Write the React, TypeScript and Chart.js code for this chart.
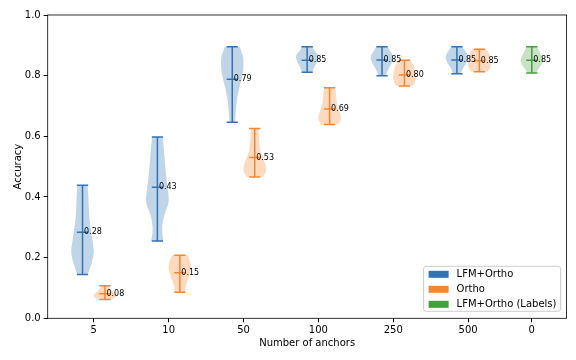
import React, { useEffect, useRef } from "react";
import { Chart, registerables } from "chart.js";

Chart.register(...registerables);

// ---- data ----
const categories = ["5", "10", "50", "100", "250", "500", "0"];
const tickPositions = [1, 2, 3, 4, 5, 6, 6.85];
const seriesNames = ["LFM+Ortho", "Ortho", "LFM+Ortho (Labels)"];
const seriesColors = ["#3274b3", "#f38630", "#44a03c"];

const bluePositions = [0.85, 1.85, 2.85, 3.85, 4.85, 5.85];
const blueMins = [0.144, 0.255, 0.646, 0.811, 0.8, 0.806];
const blueMaxs = [0.439, 0.598, 0.895, 0.895, 0.895, 0.895];
const blueMeans = [0.284, 0.432, 0.788, 0.851, 0.852, 0.852];
const blueShapes = [
  [0.45, 0.8, 1.0, 0.9, 0.75, 0.62, 0.56, 0.52, 0.45],
  [0.55, 0.42, 0.62, 1.0, 0.92, 0.78, 0.68, 0.58, 0.48],
  [0.25, 0.3, 0.38, 0.5, 0.7, 0.9, 1.0, 0.95, 0.65],
  [0.45, 0.55, 0.7, 0.85, 0.95, 1.0, 0.85, 0.6, 0.5],
  [0.35, 0.45, 0.6, 0.78, 0.92, 1.0, 0.9, 0.7, 0.5],
  [0.35, 0.45, 0.6, 0.8, 0.95, 1.0, 0.9, 0.7, 0.5],
];

const orangePositions = [1.15, 2.15, 3.15, 4.15, 5.15, 6.15];
const orangeMins = [0.062, 0.086, 0.466, 0.639, 0.766, 0.813];
const orangeMaxs = [0.107, 0.208, 0.626, 0.76, 0.851, 0.887];
const orangeMeans = [0.081, 0.15, 0.53, 0.69, 0.802, 0.849];
const orangeShapes = [
  [0.55, 0.85, 1.0, 0.95, 0.8, 0.65, 0.5, 0.4, 0.35],
  [0.45, 0.5, 0.6, 0.75, 0.9, 1.0, 0.98, 0.85, 0.7],
  [0.7, 1.0, 0.95, 0.75, 0.55, 0.45, 0.4, 0.38, 0.35],
  [0.75, 1.0, 0.97, 0.85, 0.72, 0.62, 0.58, 0.55, 0.5],
  [0.7, 0.9, 1.0, 1.0, 0.95, 0.9, 0.85, 0.7, 0.5],
  [0.7, 0.9, 1.0, 1.0, 0.98, 0.95, 0.9, 0.8, 0.6],
];

const greenPositions = [6.85];
const greenMins = [0.809];
const greenMaxs = [0.895];
const greenMeans = [0.851];
const greenShapes = [[0.4, 0.55, 0.75, 0.95, 1.0, 0.9, 0.75, 0.6, 0.5]];

const yTicks = [0, 0.2, 0.4, 0.6, 0.8, 1.0];

// ---- styling constants ----
const HALF_WIDTH = 0.15;
const CAP_HALF = 0.075;
const FONT = '"DejaVu Sans", sans-serif';

type Series = {
  positions: number[];
  mins: number[];
  maxs: number[];
  means: number[];
  shapes: number[][];
};

const allSeries: Series[] = [
  { positions: bluePositions, mins: blueMins, maxs: blueMaxs, means: blueMeans, shapes: blueShapes },
  { positions: orangePositions, mins: orangeMins, maxs: orangeMaxs, means: orangeMeans, shapes: orangeShapes },
  { positions: greenPositions, mins: greenMins, maxs: greenMaxs, means: greenMeans, shapes: greenShapes },
];

function hexToRgba(hex: string, a: number) {
  const r = parseInt(hex.slice(1, 3), 16);
  const g = parseInt(hex.slice(3, 5), 16);
  const b = parseInt(hex.slice(5, 7), 16);
  return `rgba(${r},${g},${b},${a})`;
}

function smoothThrough(ctx: CanvasRenderingContext2D, pts: { x: number; y: number }[], moveFirst: boolean) {
  if (moveFirst) ctx.moveTo(pts[0].x, pts[0].y);
  else ctx.lineTo(pts[0].x, pts[0].y);
  for (let i = 0; i < pts.length - 1; i++) {
    const p0 = pts[Math.max(0, i - 1)];
    const p1 = pts[i];
    const p2 = pts[i + 1];
    const p3 = pts[Math.min(pts.length - 1, i + 2)];
    const c1x = p1.x + (p2.x - p0.x) / 6;
    const c1y = p1.y + (p2.y - p0.y) / 6;
    const c2x = p2.x - (p3.x - p1.x) / 6;
    const c2y = p2.y - (p3.y - p1.y) / 6;
    ctx.bezierCurveTo(c1x, c1y, c2x, c2y, p2.x, p2.y);
  }
}

const violinPlugin = {
  id: "violins",
  afterDatasetsDraw(chart: any) {
    const ctx: CanvasRenderingContext2D = chart.ctx;
    const xs = chart.scales.x;
    const ys = chart.scales.y;
    const area = chart.chartArea;
    ctx.save();
    allSeries.forEach((s, si) => {
      const color = seriesColors[si];
      s.positions.forEach((pos, i) => {
        const mn = s.mins[i];
        const mx = s.maxs[i];
        const shape = s.shapes[i];
        const n = shape.length;
        const right: { x: number; y: number }[] = [];
        const left: { x: number; y: number }[] = [];
        for (let k = 0; k < n; k++) {
          const v = mn + ((mx - mn) * k) / (n - 1);
          const w = shape[k] * HALF_WIDTH;
          right.push({ x: xs.getPixelForValue(pos + w), y: ys.getPixelForValue(v) });
          left.push({ x: xs.getPixelForValue(pos - w), y: ys.getPixelForValue(v) });
        }
        ctx.beginPath();
        smoothThrough(ctx, right, true);
        smoothThrough(ctx, left.slice().reverse(), false);
        ctx.closePath();
        ctx.fillStyle = hexToRgba(color, 0.3);
        ctx.fill();

        // lines
        ctx.strokeStyle = color;
        ctx.lineWidth = 1.5;
        const cx = xs.getPixelForValue(pos);
        const cl = xs.getPixelForValue(pos - CAP_HALF);
        const cr = xs.getPixelForValue(pos + CAP_HALF);
        const yMin = ys.getPixelForValue(mn);
        const yMax = ys.getPixelForValue(mx);
        const yMean = ys.getPixelForValue(s.means[i]);
        ctx.beginPath();
        ctx.moveTo(cx, yMin);
        ctx.lineTo(cx, yMax);
        ctx.moveTo(cl, yMin);
        ctx.lineTo(cr, yMin);
        ctx.moveTo(cl, yMax);
        ctx.lineTo(cr, yMax);
        ctx.moveTo(cl, yMean);
        ctx.lineTo(cr, yMean);
        ctx.stroke();
      });
    });
    // annotations
    ctx.font = `8px ${FONT}`;
    ctx.fillStyle = "#000";
    ctx.textAlign = "left";
    ctx.textBaseline = "middle";
    allSeries.forEach((s) => {
      s.positions.forEach((pos, i) => {
        ctx.fillText(s.means[i].toFixed(2), xs.getPixelForValue(pos + 0.02), ys.getPixelForValue(s.means[i]));
      });
    });

    // frame (spines)
    ctx.strokeStyle = "#000";
    ctx.lineWidth = 0.8;
    ctx.strokeRect(area.left, area.top, area.right - area.left, area.bottom - area.top);

    // legend
    const bw = 137;
    const bh = 45;
    const bx = area.right - 6 - bw;
    const by = area.bottom - 7 - bh;
    ctx.beginPath();
    const r = 2.5;
    ctx.moveTo(bx + r, by);
    ctx.lineTo(bx + bw - r, by);
    ctx.arcTo(bx + bw, by, bx + bw, by + r, r);
    ctx.lineTo(bx + bw, by + bh - r);
    ctx.arcTo(bx + bw, by + bh, bx + bw - r, by + bh, r);
    ctx.lineTo(bx + r, by + bh);
    ctx.arcTo(bx, by + bh, bx, by + bh - r, r);
    ctx.lineTo(bx, by + r);
    ctx.arcTo(bx, by, bx + r, by, r);
    ctx.closePath();
    ctx.fillStyle = "rgba(255,255,255,0.8)";
    ctx.fill();
    ctx.strokeStyle = "#cccccc";
    ctx.lineWidth = 1;
    ctx.stroke();
    ctx.font = `10px ${FONT}`;
    ctx.textBaseline = "middle";
    seriesNames.forEach((name, i) => {
      const ry = by + 8 + i * 15;
      ctx.fillStyle = seriesColors[i];
      ctx.fillRect(bx + 5, ry - 3.5, 20, 7);
      ctx.fillStyle = "#000";
      ctx.fillText(name, bx + 33, ry + 0.5);
    });
    ctx.restore();
  },
};

export default function App() {
  const ref = useRef<HTMLCanvasElement | null>(null);
  useEffect(() => {
    if (!ref.current) return;
    const chart = new Chart(ref.current, {
      type: "scatter",
      data: {
        datasets: allSeries.map((s, si) => ({
          label: seriesNames[si],
          data: s.positions.map((p, i) => ({ x: p, y: s.means[i] })),
          pointRadius: 0,
          backgroundColor: seriesColors[si],
          borderColor: seriesColors[si],
        })),
      },
      options: {
        animation: false,
        responsive: true,
        maintainAspectRatio: false,
        layout: { padding: { top: 15, right: 9.4, left: 0, bottom: 0 } },
        plugins: { legend: { display: false }, tooltip: { enabled: false } },
        scales: {
          x: {
            type: "linear",
            min: 0.385,
            max: 7.315,
            afterBuildTicks: (scale: any) => {
              scale.ticks = tickPositions.map((v) => ({ value: v }));
            },
            afterFit: (scale: any) => {
              scale.height = 41.7;
            },
            ticks: {
              autoSkip: false,
              maxRotation: 0,
              padding: 2,
              color: "#000",
              font: { family: FONT, size: 10 },
              callback: (_v: any, index: number) => categories[index],
            },
            grid: { drawOnChartArea: false, drawTicks: true, tickLength: 4, color: "#000" },
            border: { display: false },
            title: {
              display: true,
              text: "Number of anchors",
              color: "#000",
              font: { family: FONT, size: 10 },
              padding: { top: 0, bottom: 11 },
            },
          },
          y: {
            type: "linear",
            min: 0,
            max: 1,
            afterBuildTicks: (scale: any) => {
              scale.ticks = yTicks.map((v) => ({ value: v }));
            },
            afterFit: (scale: any) => {
              scale.width = 47.7;
            },
            ticks: {
              padding: 3,
              color: "#000",
              font: { family: FONT, size: 10 },
              callback: (v: any) => Number(v).toFixed(1),
            },
            grid: { drawOnChartArea: false, drawTicks: true, tickLength: 4, color: "#000" },
            border: { display: false },
            title: {
              display: true,
              text: "Accuracy",
              color: "#000",
              font: { family: FONT, size: 10 },
              padding: { top: 12, bottom: 0 },
            },
          },
        },
      },
      plugins: [violinPlugin],
    } as any);
    return () => chart.destroy();
  }, []);
  return (
    <div style={{ position: "absolute", left: 0, top: 0, width: 576, height: 360, background: "#fff" }}>
      <canvas ref={ref} />
    </div>
  );
}
